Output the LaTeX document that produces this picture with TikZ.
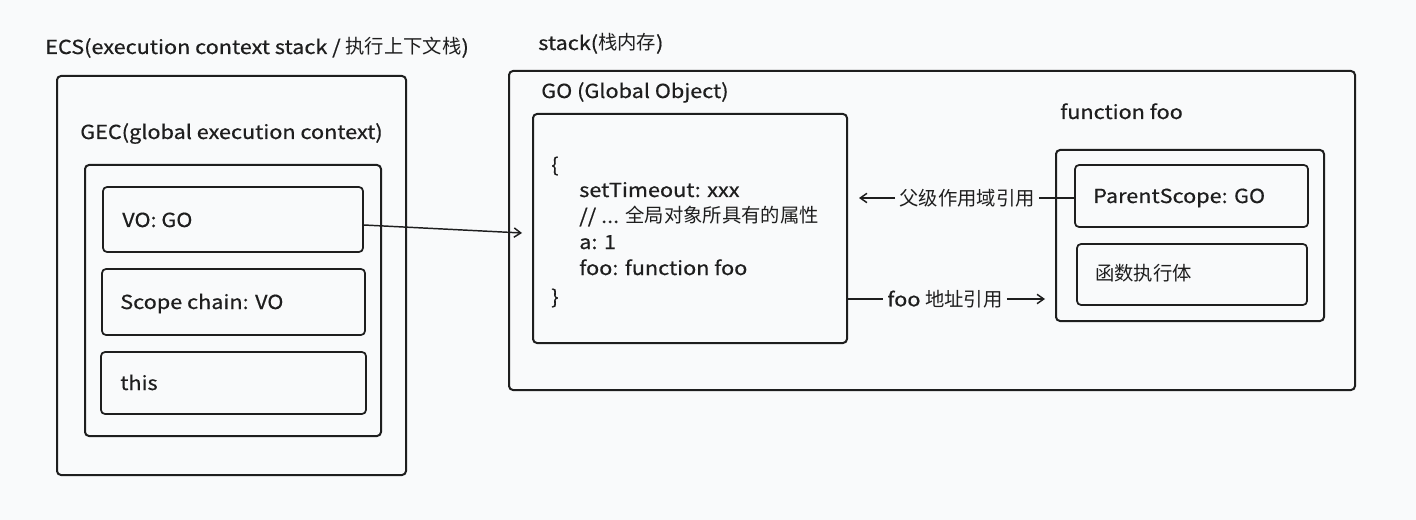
\documentclass[tikz,border=0pt]{standalone}
\usepackage{fontspec}
\setmainfont{Noto Sans CJK SC}[FakeStretch=1.12,FakeBold=0.6]
\newfontfamily\cjk{Noto Sans CJK SC}
\usetikzlibrary{fit,arrows.meta}
\definecolor{bg}{HTML}{F9FAFB}
\definecolor{ink}{HTML}{1E1E1E}
\begin{document}
\begin{tikzpicture}[x=0.75pt,y=-0.75pt,
  box/.style={draw=ink,line width=1.5pt,rounded corners=3pt,inner sep=0pt},
  sbox/.style={draw=ink,line width=1.3pt,rounded corners=3pt,inner sep=0pt},
  txt/.style={anchor=base west,inner sep=0pt,text=ink,font=\fontsize{14.5pt}{17pt}\selectfont},
  lab/.style={inner sep=3pt,text=ink,font=\fontsize{14.5pt}{17pt}\selectfont},
  conn/.style={draw=ink,line width=1.1pt},
  arr/.style={conn,-{Straight Barb[length=5pt,width=7pt,line width=1.1pt]}}
]
\fill[bg] (0,0) rectangle (1416,520);
\useasboundingbox (0,0) rectangle (1416,520);

% ECS side
\node[txt] (ecst) at (45,54) {ECS(execution context stack / {\cjk 执行上下文栈})};
\node[box,fit={(57,76)(406,475)}] (ecs) {};
\node[txt] (gect) at (80,139) {GEC(global execution context)};
\node[box,fit={(85,165)(381,436)}] (gec) {};
\node[sbox,fit={(103,187)(363,252)}] (vo) {};
\node[txt] (vot) at (122,227) {VO: GO};
\node[sbox,fit={(102,269)(365,335)}] (sc) {};
\node[txt] (sct) at (120,309) {Scope chain: VO};
\node[sbox,fit={(101,352)(366,414)}] (th) {};
\node[txt] (tht) at (120,390) {this};

% stack side
\node[txt] (stt) at (538,50) {stack({\cjk 栈内存})};
\node[box,fit={(509,71)(1355,390)}] (stack) {};
\node[txt] (got) at (541,98) {GO (Global Object)};
\node[box,fit={(533,114)(847,343)}] (go) {};
\node[txt] (l0) at (551,172) {\{};
\node[txt] (l1) at (579,197) {setTimeout: xxx};
\node[txt] (l2) at (579,223) {// ... {\cjk 全局对象所具有的属性}};
\node[txt] (l3) at (579,249) {a: 1};
\node[txt] (l4) at (579,275) {foo: function foo};
\node[txt] (l5) at (551,304) {\}};

\node[txt] (fft) at (1060,119) {function foo};
\node[box,fit={(1056,150)(1324,321)}] (foo) {};
\node[sbox,fit={(1075,165)(1308,227)}] (ps) {};
\node[txt] (pst) at (1093,203) {ParentScope: GO};
\node[sbox,fit={(1077,244)(1307,305)}] (body) {};
\node[txt] (bodyt) at (1095,280) {\cjk 函数执行体};

% connectors
\coordinate (voend) at (522,233);
\draw[arr] (vo.east |- 0,225) -- (voend);

\node[lab] (plab) at (967,198) {\cjk 父级作用域引用};
\coordinate (pend) at (859,198);
\draw[conn] (ps.west |- 0,198) -- (plab.east);
\draw[arr] (plab.west) -- (pend);

\node[lab] (flab) at (945,299) {foo {\cjk 地址引用}};
\coordinate (fstart) at (847,299);
\coordinate (fend) at (1045,299);
\draw[conn] (fstart) -- (flab.west);
\draw[arr] (flab.east) -- (fend);
\end{tikzpicture}
\end{document}
